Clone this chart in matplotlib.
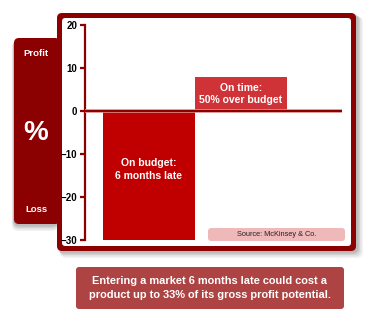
"""Recreate the 'late vs over budget' profit chart as out.png (378x327)."""

import matplotlib
matplotlib.use("Agg")
import matplotlib.pyplot as plt
from matplotlib.patches import FancyBboxPatch

plt.rcParams["font.family"] = ["Liberation Sans", "DejaVu Sans"]

# --------------------------------------------------------------------------- #
# Data
# --------------------------------------------------------------------------- #
categories = ["On budget:\n6 months late", "On time:\n50% over budget"]
profit_change = [-30, 7.8]          # % of gross profit potential
y_ticks = [20, 10, 0, -10, -20, -30]
source_text = "Source: McKinsey & Co."
caption = ("Entering a market 6 months late could cost a\n"
           "product up to 33% of its gross profit potential.")

DARK = "#8b0000"
BAR_COLORS = ["#c00000", "#cf3338"]
PINK = "#f0b9b9"
CAPTION_BG = "#ad4343"

W, H = 378, 327
fig = plt.figure(figsize=(W / 100, H / 100), dpi=100)
fig.patch.set_facecolor("white")

# Background layer in pixel coordinates (y downwards)
bg = fig.add_axes([0, 0, 1, 1], zorder=0)
bg.set_xlim(0, W)
bg.set_ylim(H, 0)
bg.axis("off")


def box(x0, y0, x1, y1, color, r=4, alpha=1.0, z=1, ax=bg):
    p = FancyBboxPatch((x0, y0), x1 - x0, y1 - y0,
                       boxstyle=f"round,pad=0,rounding_size={r}",
                       fc=color, ec="none", alpha=alpha, zorder=z)
    ax.add_patch(p)


# soft shadows
for i, a in enumerate([0.05, 0.06, 0.08, 0.10]):
    d = 7 - i * 1.5
    box(14 - d * 0.3, 38 + d * 0.5, 58, 224 + d, "black", r=6, alpha=a, z=1)
    box(57 + d * 0.5, 13 + d * 0.5, 356 + d, 251 + d, "black", r=6, alpha=a, z=1)

# left "Profit / % / Loss" panel
box(14, 38, 60, 224, DARK, r=5, z=2)
bg.text(36, 54, "Profit", color="white", fontsize=6.8, fontweight="bold",
        ha="center", va="center", zorder=3)
bg.text(36, 133, "%", color="white", fontsize=20, fontweight="bold",
        ha="center", va="center", zorder=3)
bg.text(36, 210, "Loss", color="white", fontsize=6.8, fontweight="bold",
        ha="center", va="center", zorder=3)

# main framed panel
box(57, 13, 356, 251, DARK, r=5, z=3)
box(62, 18, 351, 246, "white", r=3, z=4)

# source note
box(208, 228, 345, 241, PINK, r=3, z=5)
bg.text(276.5, 234.5, source_text, fontsize=5.3, color="#222222",
        ha="center", va="center", zorder=6, fontstretch="condensed")

# caption box
box(76, 267, 344, 309, CAPTION_BG, r=3, z=5)
bg.text(210, 288, caption, color="white", fontsize=7.9, fontweight="bold",
        ha="center", va="center", linespacing=1.6, zorder=6)

# --------------------------------------------------------------------------- #
# Data axes
# --------------------------------------------------------------------------- #
ax_l, ax_r, ax_t, ax_b = 85, 342, 25, 240
ax = fig.add_axes([ax_l / W, 1 - ax_b / H, (ax_r - ax_l) / W, (ax_b - ax_t) / H],
                  zorder=10)
ax.patch.set_visible(False)

xs = list(range(len(categories)))
bars = ax.bar(xs, profit_change, width=1.0, color=BAR_COLORS, zorder=2)
ax.set_xlim(-0.69, 2.10)
ax.set_ylim(-30, 20)

for x, v, lab in zip(xs, profit_change, categories):
    y = v / 2 if v > 0 else -13.6
    ax.text(x, y, lab, color="white", fontsize=7.5, fontweight="bold",
            ha="center", va="center", linespacing=1.3, zorder=3)

ax.axhline(0, color="#e8a0a0", lw=2.6, zorder=3)
ax.axhline(0, color=DARK, lw=1.6, zorder=4)

for s in ("top", "right", "bottom"):
    ax.spines[s].set_visible(False)
ax.spines["left"].set_color(DARK)
ax.spines["left"].set_linewidth(1.6)
ax.set_xticks([])
ax.set_yticks(y_ticks)
ax.tick_params(axis="y", direction="out", length=3.5, width=1.6, color=DARK,
               labelsize=7, pad=2)
for t in ax.get_yticklabels():
    t.set_fontweight("bold")

fig.savefig("out.png", dpi=100)
